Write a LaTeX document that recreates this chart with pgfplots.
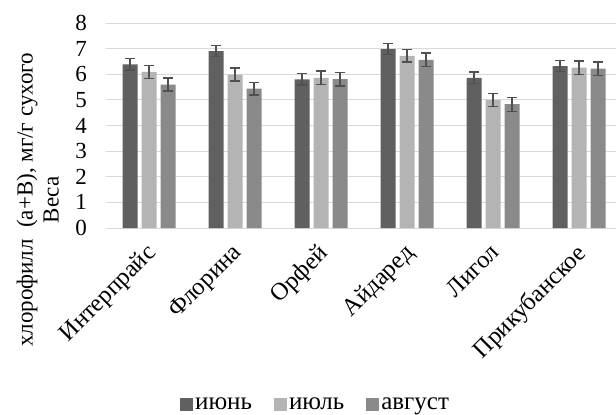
\documentclass[border=0pt]{standalone}
\usepackage{pgfplots}
\pgfplotsset{compat=1.18}
\usepackage{fontspec}
\setmainfont{Liberation Serif}

\definecolor{june}{HTML}{606060}
\definecolor{july}{HTML}{B4B4B4}
\definecolor{aug}{HTML}{8A8A8A}
\definecolor{errc}{HTML}{505050}
\definecolor{gridc}{HTML}{D9D9D9}

% chlorophyll (a+b) content: value and error for each variety (x = 0..5)
\pgfplotstableread{
x y e
0 6.39 0.22
1 6.90 0.22
2 5.80 0.22
3 6.98 0.22
4 5.86 0.23
5 6.32 0.22
}\june
\pgfplotstableread{
x y e
0 6.09 0.25
1 5.99 0.25
2 5.86 0.27
3 6.72 0.24
4 5.00 0.25
5 6.26 0.26
}\july
\pgfplotstableread{
x y e
0 5.60 0.25
1 5.44 0.25
2 5.81 0.27
3 6.56 0.27
4 4.83 0.27
5 6.22 0.26
}\august

\begin{document}
\begin{tikzpicture}
% page frame around the plot area
\path[use as bounding box] (-106pt,-187pt) rectangle (510pt,228pt);
\begin{axis}[
  at={(0,0)}, anchor=south west,
  scale only axis,
  width=510pt, height=205pt,
  xmin=-0.5, xmax=5.43,
  ymin=0, ymax=8,
  ytick={0,1,...,8},
  xtick={0,...,5},
  xticklabels={Интерпрайс,Флорина,Орфей,Айдаред,Лигол,Прикубанское},
  ybar=4pt, bar width=15pt,
  axis line style={draw=none},
  axis x line*=bottom,
  x axis line style={draw=gridc, line width=1pt},
  ymajorgrids, grid style={draw=gridc, line width=1pt},
  major tick length=0pt,
  /pgf/number format/assume math mode=true,
  tick label style={font=\fontsize{23}{26}\selectfont},
  yticklabel style={inner sep=0pt, xshift=-19pt},
  xticklabel style={font=\fontsize{24.5}{27}\selectfont, inner sep=0pt,
    xshift=-4pt, yshift=-14pt, rotate=45, anchor=north east},
  ylabel={хлорофилл\ \ (а+В), мг/г сухого\\Веса},
  ylabel style={font=\fontsize{23}{26}\selectfont, align=center, rotate=0,
    at={(axis description cs:-0.134,0.137)}, anchor=center},
  legend style={draw=none, fill=none, legend columns=3,
    at={(axis description cs:0.411,-0.859)}, anchor=center,
    font=\fontsize{25}{28}\selectfont,
    /tikz/every even column/.append style={column sep=20pt}},
  legend image code/.code={\fill[#1] (0pt,-6.5pt) rectangle (13pt,6.5pt);},
  error bars/y dir=both, error bars/y explicit,
  error bars/error bar style={draw=errc, line width=1.3pt},
  error bars/error mark options={draw=errc, line width=1.3pt, rotate=90, mark size=5pt},
]
\addplot[fill=june, draw=none] table[x=x, y=y, y error=e] {\june};
\addplot[fill=july, draw=none] table[x=x, y=y, y error=e] {\july};
\addplot[fill=aug, draw=none] table[x=x, y=y, y error=e] {\august};
\legend{июнь, июль, август}
\end{axis}
\end{tikzpicture}
\end{document}
